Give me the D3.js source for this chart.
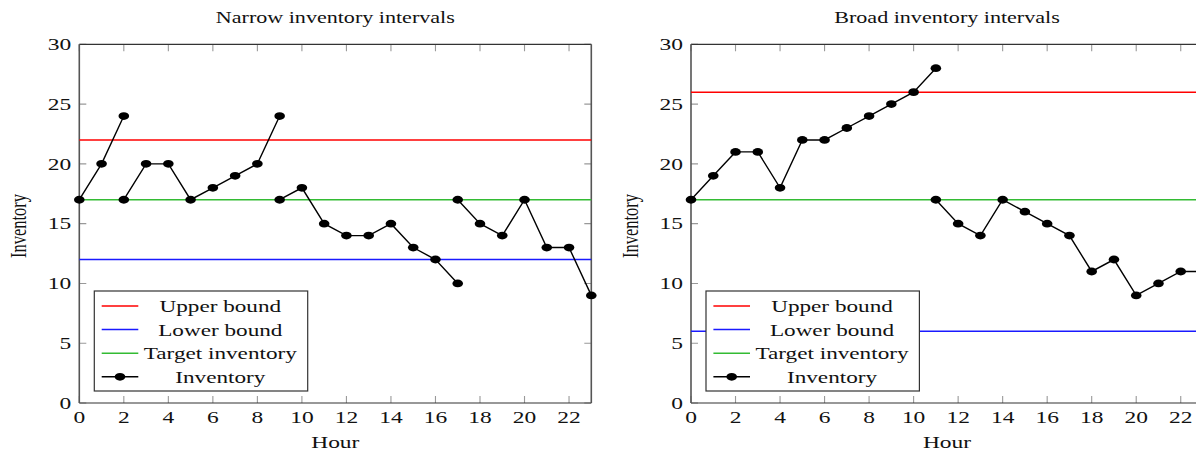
<!DOCTYPE html>
<html>
<head>
<meta charset="utf-8">
<script src="https://cdn.jsdelivr.net/npm/d3@7"></script>
<style>
  body { margin: 0; background: #fff; }
  text { font-family: "Liberation Serif", "DejaVu Serif", serif; fill: #111; }
</style>
</head>
<body>
<script>
const [width, height] = [1196, 452];

// the picture is stretched sideways, text and markers follow that
const SX = 1.38;

const xTicks = [0, 2, 4, 6, 8, 10, 12, 14, 16, 18, 20, 22];
const yTicks = [0, 5, 10, 15, 20, 25, 30];

const legendLabels = ["Upper bound", "Lower bound", "Target inventory", "Inventory"];

const narrowUpper = 22;
const narrowLower = 12;
const narrowTarget = 17;
const narrowRuns = [
  { from: 0, values: [17, 20, 24] },
  { from: 2, values: [17, 20, 20, 17, 18, 19, 20, 24] },
  { from: 9, values: [17, 18, 15, 14, 14, 15, 13, 12, 10] },
  { from: 17, values: [17, 15, 14, 17, 13, 13, 9] }
];

const broadUpper = 26;
const broadLower = 6;
const broadTarget = 17;
const broadRuns = [
  { from: 0, values: [17, 19, 21, 21, 18, 22, 22, 23, 24, 25, 26, 28] },
  { from: 11, values: [17, 15, 14, 17, 16, 15, 14, 11, 12, 9, 10, 11, 11] }
];

const colors = { upper: "#ff0000", lower: "#1a1aff", target: "#33bb33", inv: "#000" };

const svg = d3
  .select("body")
  .append("svg")
  .attr("width", width)
  .attr("height", height);

function label(g, x, y, str, size, anchor, vertical) {
  return g
    .append("text")
    .attr("transform", `translate(${x},${y}) scale(${SX},1)` + (vertical ? " rotate(-90)" : ""))
    .attr("text-anchor", anchor)
    .style("font-size", size + "px")
    .text(str);
}

function panel(left, title, upper, lower, target, runs) {
  const x = d3.scaleLinear().domain([0, 23]).range([left, left + 512]);
  const y = d3.scaleLinear().domain([0, 30]).range([403, 44.3]);
  const g = svg.append("g");
  const [x0, x1] = x.range();
  const [y0, y1] = y.range();

  // ticks, inward on all four sides
  const tickLen = 7;
  g.selectAll(".xtick")
    .data(xTicks)
    .enter()
    .append("path")
    .attr("d", d => `M${x(d)},${y0}v${-tickLen}M${x(d)},${y1}v${tickLen}`)
    .attr("stroke", "#999")
    .attr("stroke-width", 1.1);
  g.selectAll(".ytick")
    .data(yTicks)
    .enter()
    .append("path")
    .attr("d", d => `M${x0},${y(d)}h${tickLen}M${x1},${y(d)}h${-tickLen}`)
    .attr("stroke", "#999")
    .attr("stroke-width", 1.1);

  // axis box
  g.append("path")
    .attr("d", `M${x0},${y1}H${x1}M${x0},${y0}H${x1}`)
    .attr("stroke", "#333")
    .attr("stroke-width", 1.2);
  g.append("path")
    .attr("d", `M${x0},${y0}V${y1}M${x1},${y0}V${y1}`)
    .attr("stroke", "#555")
    .attr("stroke-width", 1.6);

  xTicks.forEach(t => label(g, x(t), 423, t, 17, "middle"));
  yTicks.forEach(t => label(g, x0 - 8, y(t) + 5.8, t, 17, "end"));

  label(g, (x0 + x1) / 2, 23, title, 16, "middle");
  label(g, (x0 + x1) / 2, 448, "Hour", 17, "middle");
  label(g, x0 - 53, 226, "Inventory", 16.5, "middle", true);

  // bounds
  [[upper, colors.upper], [lower, colors.lower], [target, colors.target]].forEach(([v, c]) => {
    g.append("line")
      .attr("x1", x0)
      .attr("x2", x1)
      .attr("y1", y(v))
      .attr("y2", y(v))
      .attr("stroke", c)
      .attr("stroke-width", 1.5);
  });

  // inventory runs
  const line = d3.line().x(d => x(d[0])).y(d => y(d[1]));
  runs.forEach(run => {
    const pts = run.values.map((v, i) => [run.from + i, v]);
    g.append("path")
      .attr("d", line(pts))
      .attr("fill", "none")
      .attr("stroke", colors.inv)
      .attr("stroke-width", 1.4);
    g.selectAll(null)
      .data(pts)
      .enter()
      .append("ellipse")
      .attr("cx", d => x(d[0]))
      .attr("cy", d => y(d[1]))
      .attr("rx", 5.3)
      .attr("ry", 3.9)
      .attr("fill", colors.inv);
  });

  // legend
  const lx = x0 + 15, ly = 291;
  const lg = g.append("g");
  lg.append("rect")
    .attr("x", lx)
    .attr("y", ly)
    .attr("width", 213.4)
    .attr("height", 100)
    .attr("fill", "#fff")
    .attr("stroke", "#333")
    .attr("stroke-width", 1.2);
  const rowColors = [colors.upper, colors.lower, colors.target, colors.inv];
  legendLabels.forEach((name, i) => {
    const ry = ly + 15 + i * 23.6;
    lg.append("line")
      .attr("x1", lx + 7.4)
      .attr("x2", lx + 44)
      .attr("y1", ry)
      .attr("y2", ry)
      .attr("stroke", rowColors[i])
      .attr("stroke-width", i === 3 ? 1.6 : 1.5);
    if (i === 3) {
      lg.append("ellipse")
        .attr("cx", lx + 25.7)
        .attr("cy", ry)
        .attr("rx", 5.3)
        .attr("ry", 3.9)
        .attr("fill", colors.inv);
    }
    label(lg, lx + 126, ry + 6, name, 16.8, "middle");
  });
}

panel(79.3, "Narrow inventory intervals", narrowUpper, narrowLower, narrowTarget, narrowRuns);
panel(691, "Broad inventory intervals", broadUpper, broadLower, broadTarget, broadRuns);
</script>
</body>
</html>
